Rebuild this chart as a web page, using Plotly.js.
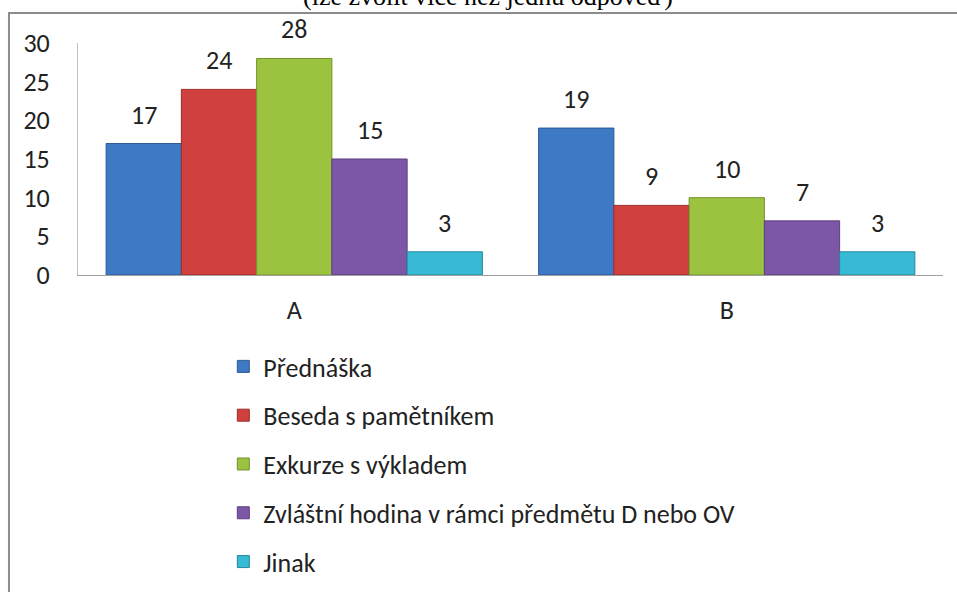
<!DOCTYPE html>
<html>
<head>
<meta charset="utf-8">
<script src="https://cdn.plot.ly/plotly-3.0.1.min.js"></script>
<style>html,body{margin:0;padding:0;background:#fff;}#chart{width:957px;height:592px;}</style>
</head>
<body>
<div id="chart"></div>
<script>
const categories = ['A', 'B'];
const seriesNames = ['Přednáška', 'Beseda s pamětníkem', 'Exkurze s výkladem', 'Zvláštní hodina v rámci předmětu D nebo OV', 'Jinak'];
const prednaska = [17, 19];
const beseda = [24, 9];
const exkurze = [28, 10];
const zvlastni = [15, 7];
const jinak = [3, 3];
const yTicks = [0, 5, 10, 15, 20, 25, 30];
const titleText = '(lze zvolit více než jednu odpověď)';

const seriesValues = [prednaska, beseda, exkurze, zvlastni, jinak];
const fills = ['#3d79c4', '#cf403e', '#9cc33f', '#7d57a7', '#37bad5'];
const edges = ['#2b5a94', '#9a2d2b', '#74922c', '#5b3f7c', '#25879c'];
const font = 'Calibri, Carlito, "Open Sans", "Noto Sans", sans-serif';
const fs = 26;
const bargap = 0.13;

const data = seriesValues.map((vals, i) => ({
  type: 'bar',
  name: seriesNames[i],
  x: categories,
  y: vals,
  marker: {color: fills[i], line: {color: edges[i], width: 1}},
  legendgroup: 'g' + i,
  hoverinfo: 'skip'
}));

// value labels placed above each bar, positioned via the category axis
const nS = seriesValues.length;
const slot = (1 - bargap) / nS;
const labels = [];
seriesValues.forEach((vals, i) => {
  vals.forEach((v, j) => {
    labels.push({
      x: j + (i - (nS - 1) / 2) * slot, y: v, xref: 'x', yref: 'y',
      text: String(v), showarrow: false, xanchor: 'center', yanchor: 'bottom',
      yshift: 11, font: {family: font, size: fs, color: '#222'}
    });
  });
});

const layout = {
  width: 957, height: 592,
  margin: {l: 78, r: 14, t: 43, b: 317, autoexpand: false},
  paper_bgcolor: '#fff', plot_bgcolor: '#fff',
  barmode: 'group', bargap: bargap, bargroupgap: 0,
  showlegend: true,
  font: {family: font, size: fs, color: '#222'},
  xaxis: {
    type: 'category', range: [-0.5, 1.5], showgrid: false, zeroline: false,
    showline: true, linecolor: '#a0a0a0', linewidth: 1, ticks: '',
    ticklabelstandoff: 12, tickfont: {family: font, size: fs, color: '#222'}
  },
  yaxis: {
    range: [0, 30], tickvals: yTicks, showgrid: false, zeroline: false,
    showline: true, linecolor: '#c0c0c0', linewidth: 1, ticks: '',
    ticklabelstandoff: 22, tickfont: {family: font, size: fs, color: '#222'}
  },
  legend: {
    x: 0.168, y: -0.293, xanchor: 'left', yanchor: 'top',
    orientation: 'v', tracegroupgap: 12, traceorder: 'grouped',
    font: {family: font, size: fs, color: '#222'},
    itemwidth: 30, bgcolor: 'rgba(0,0,0,0)'
  },
  shapes: [{
    type: 'rect', xref: 'paper', yref: 'paper',
    x0: -0.0798, x1: 1.2, y0: -2, y1: 1.1293,
    line: {color: '#8c8c8c', width: 2}, fillcolor: 'rgba(0,0,0,0)', layer: 'below'
  }],
  annotations: labels.concat([{
    text: titleText, xref: 'paper', yref: 'paper', x: 0.474, y: 1.128,
    xanchor: 'center', yanchor: 'bottom', showarrow: false,
    font: {family: '"Liberation Serif", "Times New Roman", serif', size: 26, color: '#000'}
  }])
};

Plotly.newPlot('chart', data, layout, {displayModeBar: false, staticPlot: true});
</script>
</body>
</html>
